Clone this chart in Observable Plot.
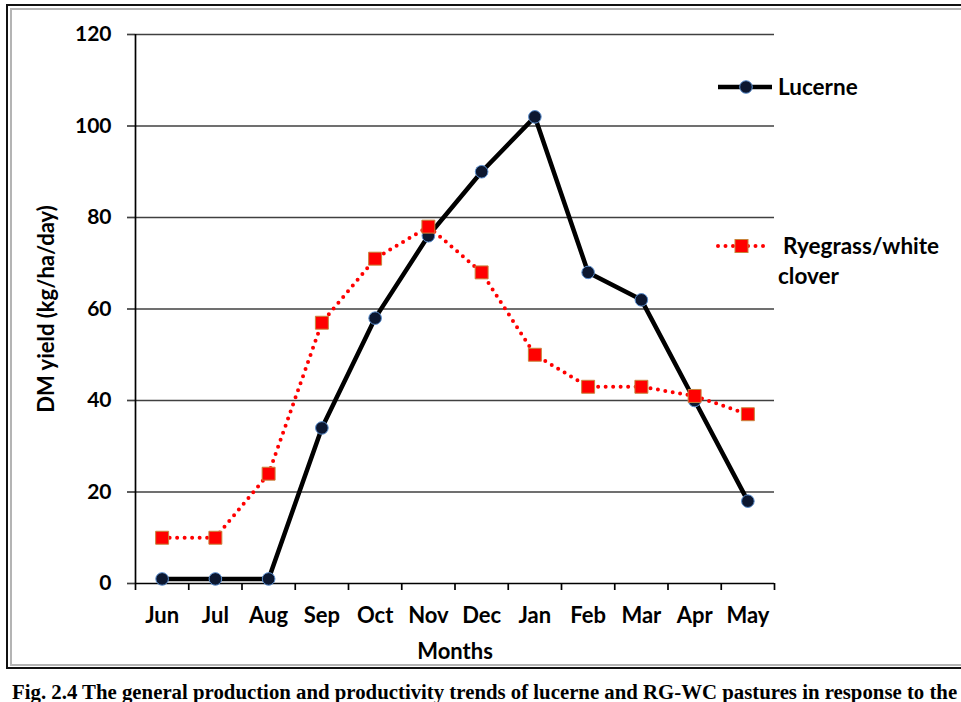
<!DOCTYPE html>
<html><head><meta charset="utf-8">
<script src="https://cdn.jsdelivr.net/npm/d3@7"></script>
<script src="https://cdn.jsdelivr.net/npm/@observablehq/plot@0.6"></script>
<style>
body{margin:0;background:#fff;}
#wrap{position:relative;width:961px;height:702px;overflow:hidden;font-family:Lato,"Open Sans",sans-serif;color:#000;}
#chart{position:absolute;left:0;top:0;}
.fo{position:absolute;left:6px;top:4px;width:1000px;height:661px;border:2px solid #111;border-right:none;}
.fi{position:absolute;left:10px;top:8px;width:1000px;height:654px;border:2px solid #b4b4b4;border-right:none;}
.leg{position:absolute;font-weight:bold;font-size:22.5px;white-space:nowrap;}
.caption{position:absolute;left:12px;top:681px;line-height:21px;font-family:"Liberation Serif","Times New Roman",serif;font-weight:bold;font-size:20.8px;white-space:nowrap;}
</style>
</head><body>
<div id="wrap">
  <div class="fo"></div><div class="fi"></div>
  <div id="chart"></div>
  <svg class="leg" style="left:716px;top:77px" width="60" height="20">
    <line x1="2" y1="10" x2="56" y2="10" stroke="#000" stroke-width="4.5"/>
    <circle cx="30" cy="10" r="6.3" fill="#0c1730" stroke="#5b8fd0" stroke-width="1"/>
  </svg>
  <div class="leg" style="left:778px;top:73px;line-height:28px">Lucerne</div>
  <svg class="leg" style="left:714px;top:236px" width="60" height="20">
    <line x1="4" y1="10" x2="54" y2="10" stroke="#ff0000" stroke-width="4" stroke-dasharray="0 7.5" stroke-linecap="round"/>
    <rect x="21" y="3.5" width="13" height="13" fill="#ff0000" stroke="#c8843c" stroke-width="1"/>
  </svg>
  <div class="leg" style="left:778px;top:231px;line-height:30px"><span style="padding-left:5px">Ryegrass/white</span><br>clover</div>
  <div class="caption">Fig. 2.4 The general production and productivity trends of lucerne and RG-WC pastures in response to the</div>
</div>
<script>
const months = ["Jun","Jul","Aug","Sep","Oct","Nov","Dec","Jan","Feb","Mar","Apr","May"];
const lucerne = [1, 1, 1, 34, 58, 76, 90, 102, 68, 62, 40, 18];
const ryegrass = [10, 10, 24, 57, 71, 78, 68, 50, 43, 43, 41, 37];
const yTicks = [0, 20, 40, 60, 80, 100, 120];

const lucData = months.map((m, i) => ({x: i + 0.5, y: lucerne[i]}));
const ryeData = months.map((m, i) => ({x: i + 0.5, y: ryegrass[i]}));
const boundaries = d3.range(months.length + 1);
const centers = months.map((m, i) => i + 0.5);

const chart = Plot.plot({
  width: 961,
  height: 666,
  marginLeft: 135,
  marginRight: 187,
  marginTop: 34,
  marginBottom: 83,
  style: {fontFamily: "Lato, 'Open Sans', sans-serif", color: "#000", background: "transparent", overflow: "visible"},
  x: {domain: [0, months.length]},
  y: {domain: [0, 120]},
  marks: [
    Plot.ruleY(yTicks.filter(t => t > 0), {stroke: "#404040", strokeWidth: 1.7}),
    Plot.axisY({ticks: yTicks, tickSize: 8, tickPadding: 16, fontSize: 21, fontWeight: "bold",
      stroke: "#404040", strokeWidth: 1.7, label: null}),
    Plot.axisY({ticks: [], tickSize: 0, fontSize: 22, fontWeight: "bold",
      label: "DM yield (kg/ha/day)", labelAnchor: "center", labelArrow: "none", labelOffset: 97}),
    Plot.ruleX([0], {y1: 0, y2: 120, stroke: "#000", strokeWidth: 1.7}),
    Plot.ruleY([0], {stroke: "#000", strokeWidth: 1.7}),
    Plot.axisX({ticks: boundaries, tickFormat: () => "", tickSize: 7, stroke: "#000", strokeWidth: 1.7, label: null}),
    Plot.axisX({ticks: centers, tickFormat: d => months[Math.round(d - 0.5)], tickSize: 0, tickPadding: 24,
      fontSize: 22, fontWeight: "bold",
      label: "Months", labelAnchor: "center", labelArrow: "none", labelOffset: 75}),
    Plot.line(lucData, {x: "x", y: "y", stroke: "#000", strokeWidth: 4.5}),
    Plot.dot(lucData, {x: "x", y: "y", r: 6.3, fill: "#0c1730", stroke: "#5b8fd0", strokeWidth: 1}),
    Plot.line(ryeData, {x: "x", y: "y", stroke: "#ff0000", strokeWidth: 4, strokeDasharray: "0 7.5", strokeLinecap: "round"}),
    Plot.dot(ryeData, {x: "x", y: "y", symbol: "square", r: 7.3, fill: "#ff0000", stroke: "#c8843c", strokeWidth: 1})
  ]
});
chart.querySelectorAll("g[aria-label='x-axis label'] text, g[aria-label='y-axis label'] text").forEach(t => {
  t.setAttribute("font-weight", "bold");
});
document.getElementById("chart").appendChild(chart);
</script>
</body></html>
